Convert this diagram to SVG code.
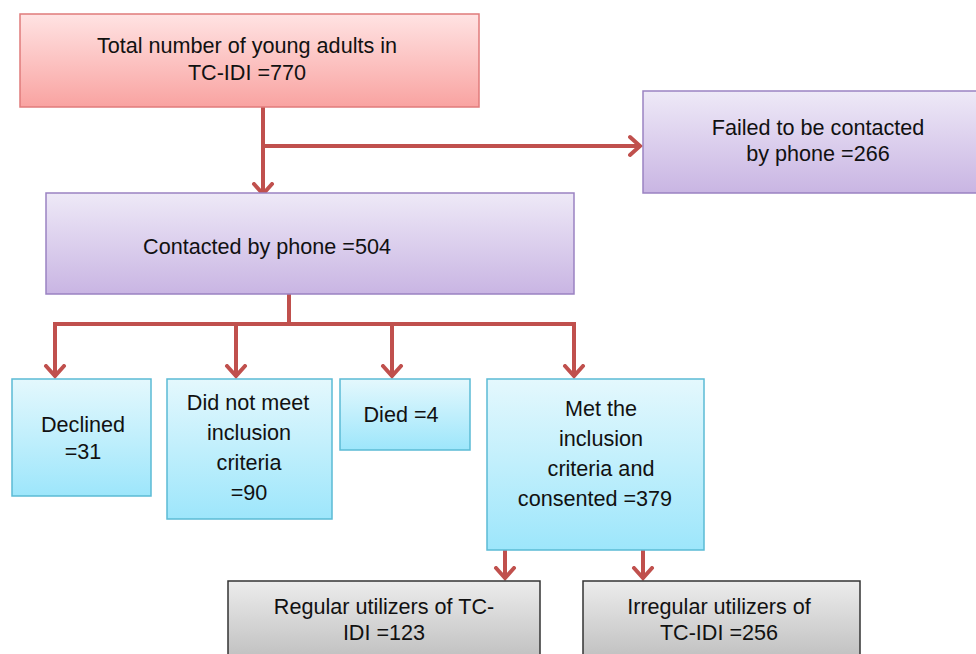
<svg xmlns="http://www.w3.org/2000/svg" width="976" height="654" viewBox="0 0 976 654">
<defs>
<linearGradient id="gRed" x1="0" y1="0" x2="0" y2="1"><stop offset="0" stop-color="#ffe3e3"/><stop offset="1" stop-color="#f9a3a1"/></linearGradient>
<linearGradient id="gPur" x1="0" y1="0" x2="0" y2="1"><stop offset="0" stop-color="#eee9f7"/><stop offset="1" stop-color="#c9b5e3"/></linearGradient>
<linearGradient id="gCyan" x1="0" y1="0" x2="0" y2="1"><stop offset="0" stop-color="#e4f8fd"/><stop offset="1" stop-color="#9de6fb"/></linearGradient>
<linearGradient id="gGray" x1="0" y1="0" x2="0" y2="1"><stop offset="0" stop-color="#ececec"/><stop offset="1" stop-color="#bfbfbf"/></linearGradient>
<marker id="arr" markerUnits="userSpaceOnUse" markerWidth="26" markerHeight="26" viewBox="-13 -13 26 26" refX="0" refY="0" orient="auto">
<path d="M-11,-9 L-1,0 L-11,9" fill="none" stroke="#c0504d" stroke-width="4" stroke-linecap="round" stroke-linejoin="miter"/>
</marker>
<style>
text{font-family:"Liberation Sans",Arial,sans-serif;font-size:21.6px;fill:#111;text-anchor:middle}
.red{fill:url(#gRed);stroke:#e07b7b;stroke-width:1.5}
.pur{fill:url(#gPur);stroke:#9a82c2;stroke-width:1.5}
.cy{fill:url(#gCyan);stroke:#5bbbd5;stroke-width:1.5}
.gr{fill:url(#gGray);stroke:#333;stroke-width:1.5}
.ln{fill:none;stroke:#c0504d;stroke-width:4}
</style>
</defs>
<rect width="976" height="654" fill="#fff"/>
<g id="connectors">
<path class="ln" d="M263,107 V195" marker-end="url(#arr)"/>
<path class="ln" d="M263,146 H641" marker-end="url(#arr)"/>
<path class="ln" d="M289,294 V324"/>
<path class="ln" d="M55,324 H574"/>
<path class="ln" d="M55,322 V377" marker-end="url(#arr)"/>
<path class="ln" d="M236,324 V377" marker-end="url(#arr)"/>
<path class="ln" d="M392,324 V377" marker-end="url(#arr)"/>
<path class="ln" d="M574,322 V377" marker-end="url(#arr)"/>
<path class="ln" d="M505,550 V579" marker-end="url(#arr)"/>
<path class="ln" d="M643,550 V579" marker-end="url(#arr)"/>
</g>
<g id="total">
<rect class="red" x="20" y="14" width="459" height="93"/>
<text x="247" y="53">Total number of young adults in</text>
<text x="247" y="80">TC-IDI =770</text>
</g>
<g id="failed">
<rect class="pur" x="643" y="91" width="340" height="102"/>
<text x="818" y="135">Failed to be contacted</text>
<text x="818" y="161">by phone =266</text>
</g>
<g id="contacted">
<rect class="pur" x="46" y="193" width="528" height="101"/>
<text x="267" y="254">Contacted by phone =504</text>
</g>
<g id="declined">
<rect class="cy" x="12" y="379" width="139" height="117"/>
<text x="83" y="432">Declined</text>
<text x="83" y="459">=31</text>
</g>
<g id="notmeet">
<rect class="cy" x="167" y="379" width="165" height="140"/>
<text x="248" y="410">Did not meet</text>
<text x="249" y="440">inclusion</text>
<text x="249" y="470">criteria</text>
<text x="249" y="500">=90</text>
</g>
<g id="died">
<rect class="cy" x="340" y="379" width="130" height="71"/>
<text x="401" y="422">Died =4</text>
</g>
<g id="met">
<rect class="cy" x="487" y="379" width="217" height="171"/>
<text x="601" y="416">Met the</text>
<text x="601" y="446">inclusion</text>
<text x="601" y="476">criteria and</text>
<text x="595" y="506">consented =379</text>
</g>
<g id="regular">
<rect class="gr" x="228" y="581" width="312" height="80"/>
<text x="384" y="614">Regular utilizers of TC-</text>
<text x="384" y="640">IDI =123</text>
</g>
<g id="irregular">
<rect class="gr" x="583" y="581" width="277" height="80"/>
<text x="719" y="614">Irregular utilizers of</text>
<text x="719" y="640">TC-IDI =256</text>
</g>
</svg>
